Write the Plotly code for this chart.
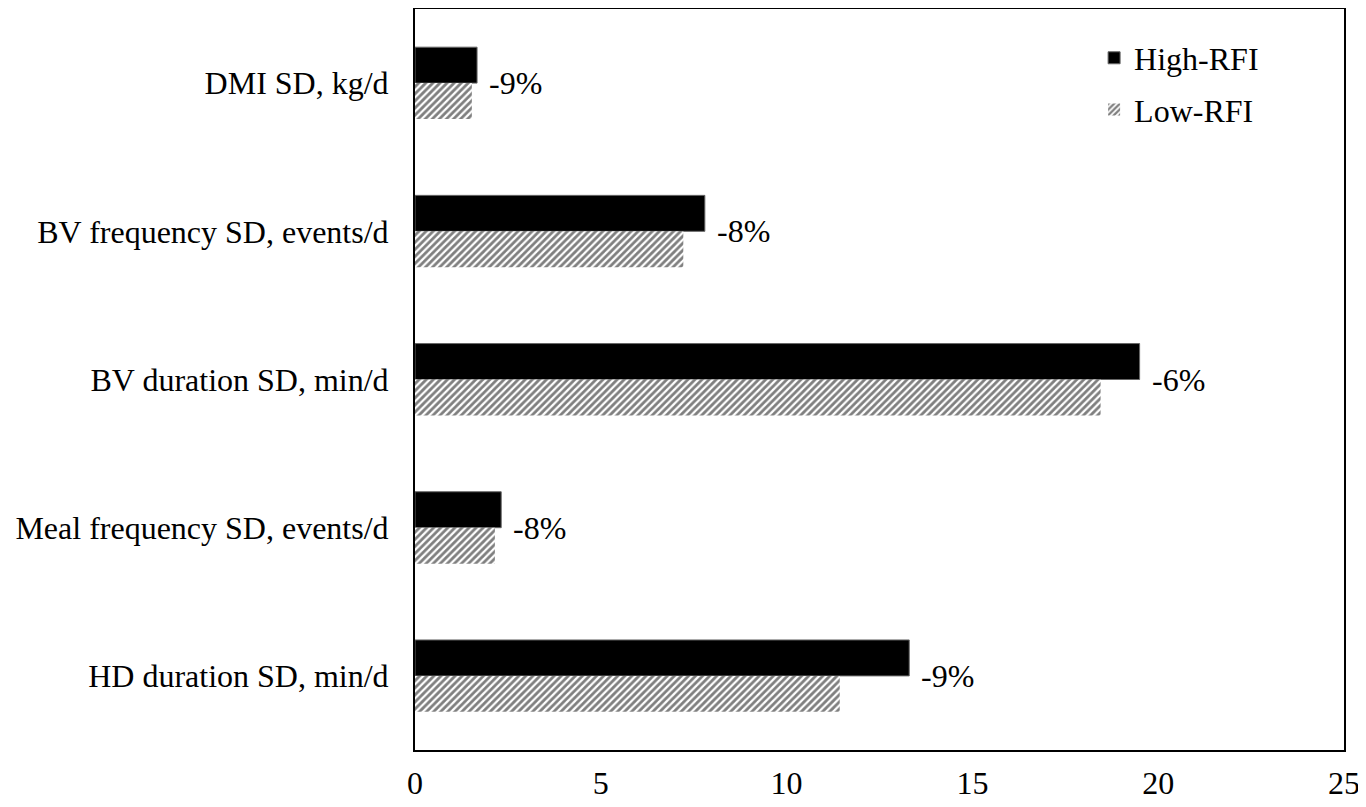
import plotly.graph_objects as go

categories = ["DMI SD, kg/d", "BV frequency SD, events/d", "BV duration SD, min/d",
              "Meal frequency SD, events/d", "HD duration SD, min/d"]
high_rfi = [1.67, 7.8, 19.5, 2.32, 13.3]
low_rfi = [1.53, 7.22, 18.45, 2.15, 11.43]
pct_labels = ["-9%", "-8%", "-6%", "-8%", "-9%"]
x_ticks = [0, 5, 10, 15, 20, 25]

FONT = "Liberation Serif, Times New Roman, serif"
FS = 32

fig = go.Figure()
fig.add_trace(go.Bar(
    y=categories, x=high_rfi, orientation="h", name="High-RFI",
    marker=dict(color="black", line=dict(color="#666666", width=1)),
    legendgroup="a",
))
fig.add_trace(go.Bar(
    y=categories, x=low_rfi, orientation="h", name="Low-RFI",
    marker=dict(color="white", line=dict(width=0),
                pattern=dict(shape="/", fgcolor="black", bgcolor="white",
                             size=5, solidity=0.55)),
    legendgroup="b",
))

for cat, v, t in zip(categories, high_rfi, pct_labels):
    fig.add_annotation(x=v, y=cat, text=t, showarrow=False, xanchor="left",
                       yanchor="middle", xshift=10,
                       font=dict(family=FONT, size=FS, color="black"))

fig.update_layout(
    width=1358, height=799,
    margin=dict(l=407, r=22, t=1, b=57),
    paper_bgcolor="white", plot_bgcolor="white",
    barmode="group", bargap=0.515, bargroupgap=0,
    font=dict(family=FONT, size=FS, color="black"),
    showlegend=True,
    legend=dict(x=0.731, y=0.971, xanchor="left", yanchor="top",
                traceorder="grouped", tracegroupgap=7,
                bgcolor="rgba(0,0,0,0)", font=dict(family=FONT, size=FS)),
    xaxis=dict(range=[0, 25], tickvals=x_ticks, showgrid=False, zeroline=False,
               showline=True, linecolor="black", linewidth=2, mirror=True,
               ticks="", automargin=False, ticklabelstandoff=4,
               tickfont=dict(family=FONT, size=FS)),
    yaxis=dict(autorange="reversed", showgrid=False, zeroline=False,
               showline=True, linecolor="black", linewidth=2, mirror=True,
               ticks="", automargin=False, ticklabelstandoff=18,
               tickfont=dict(family=FONT, size=FS)),
)

fig.write_html("out.html")
